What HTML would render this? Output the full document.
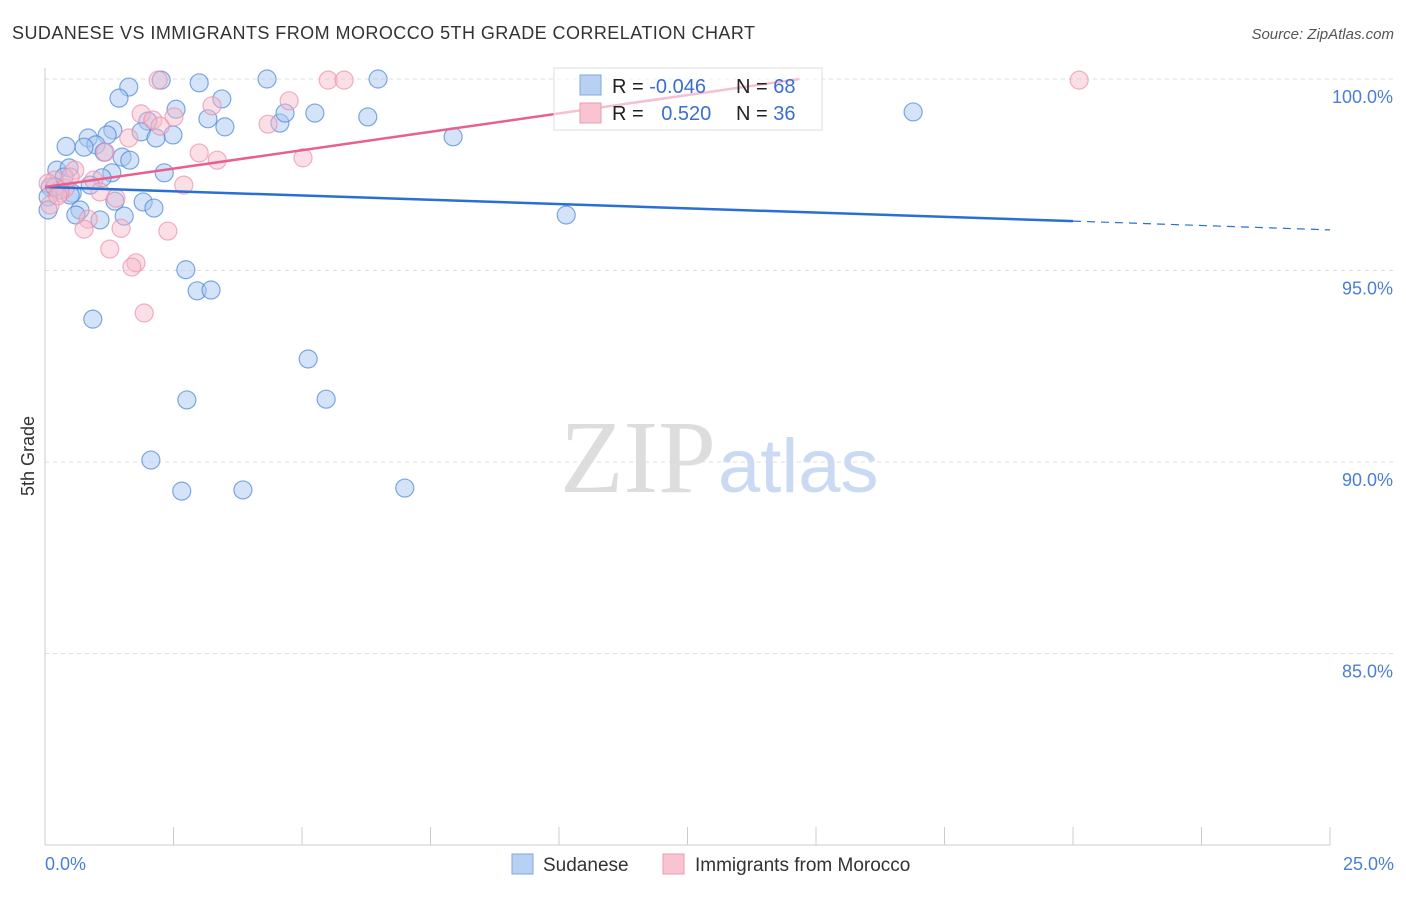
<!DOCTYPE html>
<html><head><meta charset="utf-8"><style>
body{margin:0;background:#fff;font-family:"Liberation Sans",sans-serif}
svg text{font-family:"Liberation Sans",sans-serif}
</style></head><body>
<svg width="1406" height="892">
<text x="12" y="39" font-size="18" fill="#333" textLength="743">SUDANESE VS IMMIGRANTS FROM MOROCCO 5TH GRADE CORRELATION CHART</text>
<text x="1394" y="39" font-size="15" fill="#555" font-style="italic" text-anchor="end">Source: ZipAtlas.com</text>
<g id="grid"></g>
<line x1="45" y1="68" x2="45" y2="845" stroke="#ccc"/>
<line x1="45" y1="845" x2="1330" y2="845" stroke="#ccc"/>
<g id="xticks"></g>
<g id="ylabels"></g>
<text x="45" y="870" font-size="18" fill="#4a7fd6">0.0%</text>
<text x="1394" y="870" font-size="18" fill="#4a7fd6" text-anchor="end">25.0%</text>
<text x="34" y="456" font-size="18" fill="#333" text-anchor="middle" transform="rotate(-90 34 456)">5th Grade</text>
<text x="716" y="492" font-size="104" fill="#ddd" text-anchor="end" style="font-family:'Liberation Serif',serif">ZIP</text>
<text x="718" y="492" font-size="76" fill="#c9daf2">atlas</text>
<g id="pts"></g>
<g id="lines"></g>
<g>
<rect x="554" y="68" width="268" height="62" fill="#fff" fill-opacity="0.6" stroke="#ddd"/>
<rect x="580" y="75" width="21" height="20" fill="#b8d1f3" stroke="#7fa6e0"/>
<rect x="580" y="103" width="21" height="20" fill="#f9c4d2" stroke="#eb9ab0"/>
<text x="612" y="93" font-size="20" fill="#222">R = <tspan fill="#3a6fd0">-0.046</tspan></text>
<text x="736" y="93" font-size="20" fill="#222">N = <tspan fill="#3a6fd0">68</tspan></text>
<text x="612" y="120" font-size="20" fill="#222">R = <tspan fill="#3a6fd0" dx="12">0.520</tspan></text>
<text x="736" y="120" font-size="20" fill="#222">N = <tspan fill="#3a6fd0">36</tspan></text>
</g>
<g>
<rect x="512" y="854" width="21" height="20" fill="#b8d1f3" stroke="#7fa6e0"/>
<text x="543" y="871" font-size="19" fill="#333">Sudanese</text>
<rect x="663" y="854" width="21" height="20" fill="#f9c4d2" stroke="#eb9ab0"/>
<text x="695" y="871" font-size="19" fill="#333">Immigrants from Morocco</text>
</g>
</svg>
<script>
const yTicks=[100,95,90,85];
const xTickVals=[0,2.5,5,7.5,10,12.5,15,17.5,20,22.5,25];
const blueX=[1.63,2.26,3.00,4.32,6.48,1.44,3.44,2.55,5.25,6.28,3.17,2.00,4.57,3.50,1.32,1.87,0.84,1.21,2.49,2.16,7.94,0.41,0.99,0.76,1.15,1.50,1.65,0.23,0.47,1.30,2.32,1.11,0.37,0.88,0.10,0.29,0.53,0.06,1.36,1.91,2.12,0.68,0.60,1.54,1.07,10.14,16.89,2.74,2.96,3.23,0.93,5.12,2.76,5.47,2.06,2.66,3.85,7.00,4.67,0.06,0.49,0.19];
const blueY=[99.79,99.97,99.90,100,100,99.50,99.48,99.21,99.11,99.01,98.96,98.90,98.85,98.75,98.67,98.62,98.46,98.54,98.54,98.46,98.49,98.24,98.28,98.22,98.09,97.96,97.88,97.62,97.68,97.55,97.55,97.42,97.44,97.23,97.18,97.10,97.02,96.92,96.81,96.79,96.63,96.58,96.45,96.42,96.32,96.45,99.14,95.02,94.47,94.49,93.73,92.69,91.62,91.64,90.05,89.24,89.27,89.32,99.11,96.58,96.97,97.18];
const pinkX=[2.20,5.51,5.82,20.12,4.75,3.25,1.87,2.10,2.51,2.24,4.34,1.63,3.00,3.35,5.02,1.17,0.58,0.95,2.70,0.19,0.06,0.39,0.29,1.07,1.38,0.84,0.76,1.48,2.39,1.26,1.77,1.69,1.93,0.10,0.25,0.49];
const pinkY=[99.97,99.97,99.97,99.97,99.43,99.30,99.09,98.93,99.01,98.77,98.82,98.46,98.07,97.88,97.94,98.09,97.62,97.36,97.23,97.36,97.28,97.15,97.02,97.05,96.89,96.34,96.08,96.10,96.03,95.56,95.20,95.09,93.89,96.71,96.95,97.44];
const blueTrend=[[0,97.18],[20,96.29]];
const blueDash=[[20,96.29],[25,96.06]];
const pinkTrend=[[0,97.18],[14.68,100]];
const ns="http://www.w3.org/2000/svg";
const X=v=>45+v*51.4, Y=v=>79+(100-v)*38.3;
function mk(t,a,p){const e=document.createElementNS(ns,t);for(const k in a)e.setAttribute(k,a[k]);p.appendChild(e);return e;}
const grid=document.getElementById('grid'),yl=document.getElementById('ylabels'),xt=document.getElementById('xticks');
yTicks.forEach(v=>{const l=mk('line',{x1:45,x2:1394,y1:Y(v),y2:Y(v),stroke:'#ddd','stroke-dasharray':'4,4'},grid);


const t=mk('text',{x:1393,y:Y(v)+24,'font-size':18,fill:'#4a7fd6','text-anchor':'end'},yl);t.textContent=v.toFixed(1)+'%';

});
xTickVals.forEach(v=>{const l=mk('line',{x1:X(v),x2:X(v),y1:827,y2:845,stroke:'#ccc'},xt);

});
const pts=document.getElementById('pts');
blueX.forEach((x,i)=>{const c=mk('circle',{cx:X(x),cy:Y(blueY[i]),r:9,fill:'#a9c8f0','fill-opacity':0.5,stroke:'#4a86d8','stroke-opacity':0.7,'stroke-width':1.2},pts);

});
pinkX.forEach((x,i)=>{const c=mk('circle',{cx:X(x),cy:Y(pinkY[i]),r:9,fill:'#f7b8ca','fill-opacity':0.45,stroke:'#eb8fab','stroke-opacity':0.7,'stroke-width':1.2},pts);

});
const lg=document.getElementById('lines');
let l1=mk('line',{x1:X(blueTrend[0][0]),y1:Y(blueTrend[0][1]),x2:X(blueTrend[1][0]),y2:Y(blueTrend[1][1]),stroke:'#2a6fd4','stroke-width':2.5},lg);


let l2=mk('line',{x1:X(blueDash[0][0]),y1:Y(blueDash[0][1]),x2:X(blueDash[1][0]),y2:Y(blueDash[1][1]),stroke:'#2a6fd4','stroke-width':1.2,'stroke-dasharray':'8,6'},lg);


let l3=mk('line',{x1:X(pinkTrend[0][0]),y1:Y(pinkTrend[0][1]),x2:X(pinkTrend[1][0]),y2:Y(pinkTrend[1][1]),stroke:'#e8608e','stroke-width':2.5},lg);


</script>
</body></html>
